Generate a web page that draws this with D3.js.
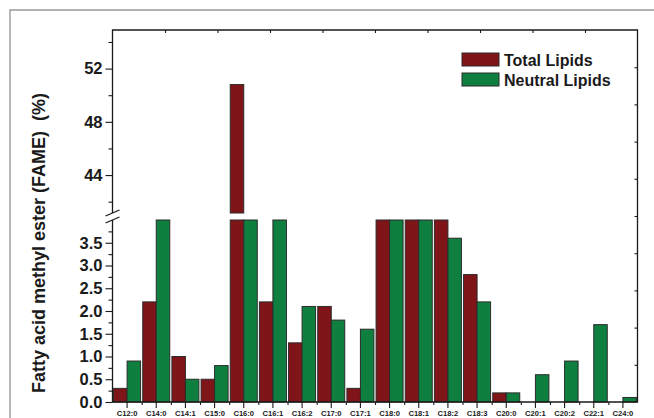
<!DOCTYPE html>
<html><head><meta charset="utf-8">
<script src="https://cdn.jsdelivr.net/npm/d3@7"></script>
<style>
body{margin:0;background:#fff}
svg{display:block}
text{font-family:"Liberation Sans",Arial,Helvetica,sans-serif;font-weight:bold;fill:#1a1a1a}
</style></head><body>
<svg id="c" width="654" height="418"></svg>
<script>
const categories = ["C12:0","C14:0","C14:1","C15:0","C16:0","C16:1","C16:2","C17:0","C17:1","C18:0","C18:1","C18:2","C18:3","C20:0","C20:1","C20:2","C22:1","C24:0"];
const totalLipids   = [0.3, 2.2, 1.0, 0.5, 50.8, 2.2, 1.3, 2.1, 0.3, 6.1, 14.0, 9.5, 2.8, 0.2, 0, 0, 0, 0];
const neutralLipids = [0.9, 5.2, 0.5, 0.8, 28.0, 6.5, 2.1, 1.8, 1.6, 7.4, 18.0, 3.6, 2.2, 0.2, 0.6, 0.9, 1.7, 0.1];
const seriesNames = ["Total Lipids","Neutral Lipids"];
const seriesColors = ["#7f1518","#0f7f40"];
const lowerTicks = [0,0.5,1.0,1.5,2.0,2.5,3.0,3.5];
const upperTicks = [44,48,52];
const yLabel = "Fatty acid methyl ester (FAME)  (%)";

const svg = d3.select("#c");
const L = 112.5, R = 637.5, T = 30, B = 402;
const lowTop = 220, upBot = 213;

svg.append("path").attr("d","M10,418 V10 H654").attr("fill","none").attr("stroke","#9a9a9a").attr("stroke-width",1.4);

const x = d3.scaleBand().domain(categories).range([L,R]).paddingInner(0).paddingOuter(0);
const sub = d3.scaleBand().domain(seriesNames).range([0,x.bandwidth()]).paddingOuter(0.08);
const yLow = d3.scaleLinear().domain([0,4]).range([B,lowTop]);
const yUp = d3.scaleLinear().domain([41.15,54.9]).range([upBot,T]);

const series = [totalLipids, neutralLipids];
series.forEach((vals,si)=>{
  const g = svg.append("g");
  categories.forEach((c,i)=>{
    const v = vals[i];
    if(v<=0) return;
    const bx = x(c)+sub(seriesNames[si]);
    const w = sub.bandwidth();
    const vl = Math.min(v,4);
    g.append("rect").attr("x",bx).attr("y",yLow(vl)).attr("width",w).attr("height",yLow(0)-yLow(vl))
      .attr("fill",seriesColors[si]).attr("stroke","#2b2b2b").attr("stroke-width",1);
    if(v>yUp.domain()[0]){
      const vu = Math.min(v,yUp.domain()[1]);
      g.append("rect").attr("x",bx).attr("y",yUp(vu)).attr("width",w).attr("height",yUp(yUp.domain()[0])-yUp(vu))
        .attr("fill",seriesColors[si]).attr("stroke","#2b2b2b").attr("stroke-width",1);
    }
  });
});

const ax = svg.append("g").attr("stroke","#1a1a1a").attr("stroke-width",1.3).attr("fill","none");
ax.append("path").attr("d",`M${L},${upBot} V${T} H${R} V${B} H${L} V${lowTop}`);
[upBot, lowTop].forEach(yy=>{
  ax.append("line").attr("x1",L-7).attr("y1",yy+3).attr("x2",L+7).attr("y2",yy-3);
});

const gl = svg.append("g").attr("transform",`translate(${L},0)`)
  .call(d3.axisLeft(yLow).tickValues(lowerTicks).tickFormat(d3.format(".1f")).tickSize(7).tickPadding(3));
svg.append("g").attr("transform",`translate(${L},0)`)
  .call(d3.axisLeft(yLow).tickValues(d3.range(0.25,4.01,0.5)).tickFormat("").tickSize(4));
const gu = svg.append("g").attr("transform",`translate(${L},0)`)
  .call(d3.axisLeft(yUp).tickValues(upperTicks).tickFormat(d3.format("d")).tickSize(7).tickPadding(3));
svg.append("g").attr("transform",`translate(${L},0)`)
  .call(d3.axisLeft(yUp).tickValues([42,46,50,54]).tickFormat("").tickSize(4));
const gx = svg.append("g").attr("transform",`translate(0,${B})`)
  .call(d3.axisBottom(x).tickSize(6).tickPadding(2.5));
const xb = d3.scaleLinear().domain([0,categories.length]).range([L,R]);
svg.append("g").attr("transform",`translate(0,${B})`)
  .call(d3.axisBottom(xb).tickValues(d3.range(1,categories.length)).tickFormat("").tickSize(3));
const fx = d3.scaleLinear().domain([0,10]).range([L,R]);
const fy = d3.scaleLinear().domain([0,10]).range([T,B]);
svg.append("g").attr("transform",`translate(0,${T})`)
  .call(d3.axisBottom(fx).tickValues(d3.range(1,10)).tickFormat("").tickSize(3));
svg.append("g").attr("transform",`translate(${R},0)`)
  .call(d3.axisLeft(fy).tickValues(d3.range(1,10)).tickFormat("").tickSize(3));

svg.selectAll(".domain").remove();
svg.selectAll(".tick line").attr("stroke","#1a1a1a").attr("stroke-width",1.1);
gl.selectAll("text").style("font-size","16.5px").attr("fill","#1a1a1a");
gu.selectAll("text").style("font-size","16.5px").attr("fill","#1a1a1a");
gx.selectAll("text").style("font-size","7.6px").attr("fill","#1a1a1a");

svg.append("text").attr("transform","translate(45,243) rotate(-90)").attr("text-anchor","middle")
  .style("font-size","18px").style("white-space","pre").text(yLabel);

const lg = svg.append("g");
seriesNames.forEach((n,i)=>{
  lg.append("rect").attr("x",462).attr("y",53+i*20).attr("width",37).attr("height",13)
    .attr("fill",seriesColors[i]).attr("stroke","#2b2b2b").attr("stroke-width",1);
  lg.append("text").attr("x",504).attr("y",65.5+i*20).style("font-size","16px").text(n);
});
</script></body></html>
